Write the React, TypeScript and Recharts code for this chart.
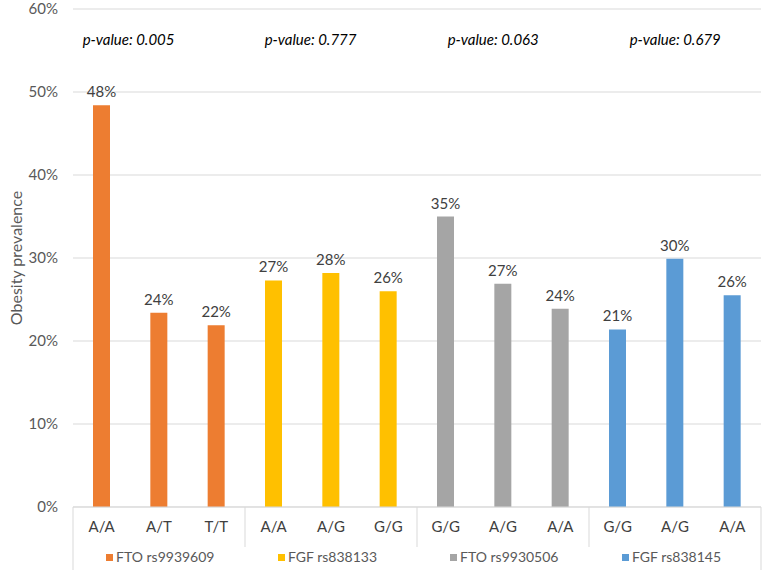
import { BarChart, Bar, XAxis, YAxis, CartesianGrid, Cell, LabelList } from 'recharts';

const genotypes = ['A/A', 'A/T', 'T/T', 'A/A', 'A/G', 'G/G', 'G/G', 'A/G', 'A/A', 'G/G', 'A/G', 'A/A'];
const prevalence = [48.4, 23.4, 21.9, 27.3, 28.2, 26.0, 35.0, 26.9, 23.9, 21.4, 29.9, 25.5];
const valueLabels = ['48%', '24%', '22%', '27%', '28%', '26%', '35%', '27%', '24%', '21%', '30%', '26%'];
const snps = ['FTO rs9939609', 'FGF rs838133', 'FTO rs9930506', 'FGF rs838145'];
const pValues = ['0.005', '0.777', '0.063', '0.679'];
const yTicks = [0, 10, 20, 30, 40, 50, 60];

const snpColors = ['#ED7D31', '#FFC000', '#A5A5A5', '#5B9BD5'];
const FONT = 'Lato, "Open Sans", sans-serif';
const BAND = 688 / 12;
const pValueOffsets = [-19, -9, 2, 12];

const chartData = genotypes.map((g, i) => ({
    key: `c${i}`,
    genotype: g,
    value: prevalence[i],
    label: valueLabels[i],
}));

function CategoryTick(props: any) {
    const { x, y, payload } = props;
    const idx: number = payload.index ?? props.index;
    const group = Math.floor(idx / 3);
    const pos = idx % 3;
    const left = x - BAND / 2;
    return (
        <g>
            <text
                x={x}
                y={y + 21}
                textAnchor="middle"
                dominantBaseline="middle"
                fontSize={15}
                fill="#404040"
                fontFamily={FONT}
            >
                {genotypes[idx]}
            </text>
            {pos === 0 && (
                <>
                    <line x1={left} x2={left} y1={y} y2={group === 0 ? y + 63 : y + 40} stroke="#d9d9d9" />
                    <rect x={left + 33} y={y + 47} width={7} height={7} fill={snpColors[group]} />
                    <text
                        x={left + 43}
                        y={y + 51}
                        dominantBaseline="middle"
                        fontSize={14}
                        fill="#595959"
                        fontFamily={FONT}
                    >
                        {snps[group]}
                    </text>
                    <text
                        x={x + pValueOffsets[group]}
                        y={41}
                        dominantBaseline="middle"
                        fontSize={15}
                        fontStyle="italic"
                        fill="#000"
                        fontFamily={FONT}
                    >
                        {`p-value: ${pValues[group]}`}
                    </text>
                </>
            )}
            {idx === genotypes.length - 1 && (
                <line x1={x + BAND / 2} x2={x + BAND / 2} y1={y} y2={y + 63} stroke="#d9d9d9" />
            )}
        </g>
    );
}

export default function App() {
    return (
        <div style={{ position: 'absolute', left: 0, top: 0, background: '#fff' }}>
            <BarChart
                width={765}
                height={578}
                data={chartData}
                margin={{ top: 9, right: 4, left: 0, bottom: 0 }}
            >
                <CartesianGrid vertical={false} stroke="#d9d9d9" />
                <XAxis
                    dataKey="key"
                    height={71}
                    interval={0}
                    tickLine={false}
                    tickSize={0}
                    tickMargin={0}
                    axisLine={{ stroke: '#d9d9d9' }}
                    tick={<CategoryTick />}
                />
                <YAxis
                    width={73}
                    domain={[0, 60]}
                    ticks={yTicks}
                    tickFormatter={(v) => `${v}%`}
                    tickLine={false}
                    axisLine={false}
                    tickMargin={9}
                    tick={{ fontSize: 15, fill: '#595959', fontFamily: FONT }}
                    label={{
                        value: 'Obesity prevalence',
                        angle: -90,
                        position: 'insideLeft',
                        offset: 16,
                        style: { fontSize: 16, fill: '#595959', fontFamily: FONT, textAnchor: 'middle' },
                    }}
                />
                <Bar dataKey="value" barSize={17} isAnimationActive={false}>
                    {chartData.map((d, i) => (
                        <Cell key={d.key} fill={snpColors[Math.floor(i / 3)]} />
                    ))}
                    <LabelList
                        dataKey="label"
                        position="top"
                        offset={8}
                        style={{ fontSize: 15, fill: '#404040', fontFamily: FONT }}
                    />
                </Bar>
            </BarChart>
        </div>
    );
}
